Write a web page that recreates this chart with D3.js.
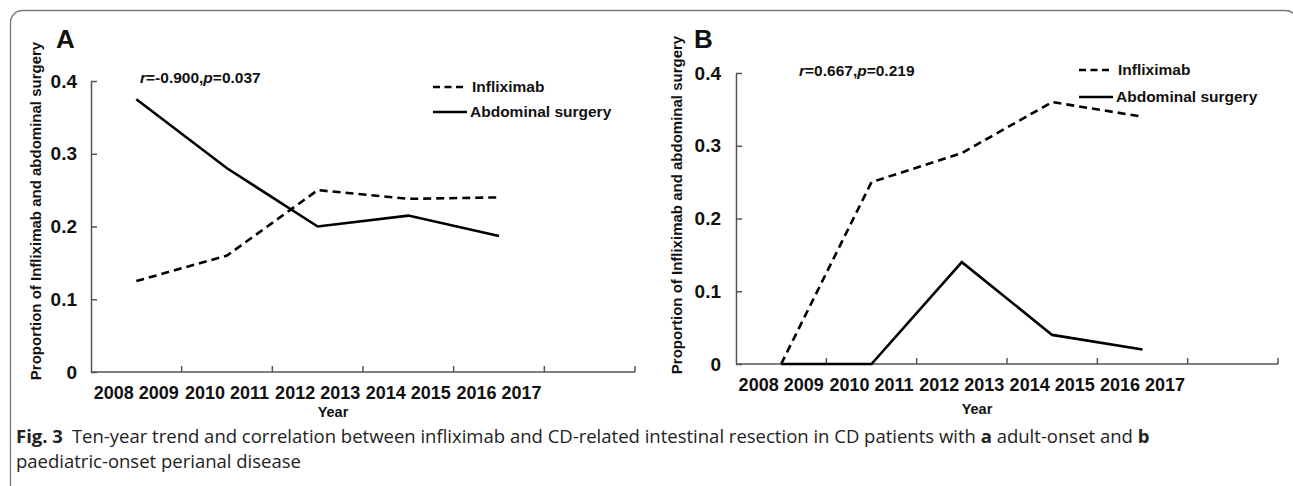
<!DOCTYPE html>
<html>
<head>
<meta charset="utf-8">
<script src="https://cdn.jsdelivr.net/npm/d3@7"></script>
<style>
  body { margin: 0; background: #fff; }
  svg { display: block; }
  .axis text { font-family: "Liberation Sans", Arial, sans-serif; font-weight: bold; fill: #111; }
  .lbl { font-family: "Liberation Sans", Arial, sans-serif; font-weight: bold; fill: #111; }
  .cap { font-family: "Open Sans", "Noto Sans", sans-serif; fill: #222; }
</style>
</head>
<body>
<svg id="chart" width="1293" height="486"></svg>
<script>
// categories (two-year groups) and y ticks
const categories = ["2008 2009", "2010 2011", "2012 2013", "2014 2015", "2016 2017", ""];
const yTicks = [0, 0.1, 0.2, 0.3, 0.4];

// panel A: adult-onset
const inflixA = [0.125, 0.16, 0.25, 0.238, 0.24];
const surgeryA = [0.375, 0.28, 0.20, 0.215, 0.187];
// panel B: paediatric-onset
const inflixB = [0, 0.25, 0.29, 0.36, 0.34];
const surgeryB = [0, 0, 0.14, 0.04, 0.02];

const seriesNames = ["Infliximab", "Abdominal surgery"];
const yTitle = "Proportion of Infliximab and abdominal surgery";

const svg = d3.select("#chart");

// outer frame
svg.append("rect")
  .attr("x", 10.5).attr("y", 10.5)
  .attr("width", 1287).attr("height", 520)
  .attr("rx", 12)
  .attr("fill", "none")
  .attr("stroke", "#777")
  .attr("stroke-width", 1.3);

function drawPanel(p) {
  const x = d3.scaleBand().domain(categories).range([p.x0, p.x1]).padding(0);
  const y = d3.scaleLinear().domain([0, 0.4]).range([p.yb, p.yt]);
  const g = svg.append("g");

  // y axis, ticks pointing inward
  g.append("g")
    .attr("class", "axis")
    .attr("transform", `translate(${p.x0},0)`)
    .call(d3.axisLeft(y).tickValues(yTicks)
      .tickFormat(d => d === 0 ? "0" : d.toFixed(1))
      .tickSizeInner(-6).tickSizeOuter(0).tickPadding(p.ypad))
    .call(a => a.selectAll("text").style("font-size", "19px"))
    .call(a => a.selectAll("line,path").attr("stroke", "#555").attr("stroke-width", 1.5));

  // x axis labels under band centres
  g.append("g")
    .attr("class", "axis")
    .attr("transform", `translate(0,${p.yb})`)
    .call(d3.axisBottom(x).tickSize(0).tickPadding(14))
    .call(a => a.select(".domain").remove())
    .call(a => a.selectAll("text").style("font-size", "18px"));

  // x axis line with boundary ticks pointing up
  g.append("line")
    .attr("x1", p.x0).attr("x2", p.x1)
    .attr("y1", p.yb).attr("y2", p.yb)
    .attr("stroke", "#555").attr("stroke-width", 1.5);
  const bounds = categories.slice(1).map(c => x(c)).concat([p.x1]);
  g.selectAll(".xt").data(bounds).enter().append("line")
    .attr("x1", d => d).attr("x2", d => d)
    .attr("y1", p.yb).attr("y2", p.yb - 6)
    .attr("stroke", "#555").attr("stroke-width", 1.5);

  const line = d3.line()
    .x((d, i) => x(categories[i]) + x.bandwidth() / 2)
    .y(d => y(d));

  g.append("path").datum(p.inflix)
    .attr("d", line).attr("fill", "none")
    .attr("stroke", "#000").attr("stroke-width", 2.6)
    .attr("stroke-dasharray", "8,5");
  g.append("path").datum(p.surgery)
    .attr("d", line).attr("fill", "none")
    .attr("stroke", "#000").attr("stroke-width", 2.6);

  // panel letter
  g.append("text").attr("class", "lbl")
    .attr("x", p.letterX).attr("y", 48)
    .style("font-size", "26px").text(p.letter);

  // y title
  g.append("text").attr("class", "lbl")
    .attr("transform", `translate(${p.ytX},${p.ytY}) rotate(-90)`)
    .attr("text-anchor", "middle").attr("dy", "0.35em")
    .style("font-size", "15px").text(yTitle);

  // x title
  g.append("text").attr("class", "lbl")
    .attr("x", p.yearX).attr("y", p.yearY)
    .attr("text-anchor", "middle")
    .style("font-size", "14.5px").text("Year");

  // correlation text
  const rt = g.append("text").attr("class", "lbl")
    .attr("x", p.rX).attr("y", p.rY).style("font-size", "15.5px");
  rt.append("tspan").style("font-style", "italic").text("r");
  rt.append("tspan").text("=" + p.r + ",");
  rt.append("tspan").style("font-style", "italic").text("p");
  rt.append("tspan").text("=" + p.p);

  // legend
  const lg = g.append("g").attr("transform", `translate(${p.legX},${p.legY})`);
  seriesNames.forEach((name, i) => {
    lg.append("line")
      .attr("x1", 0).attr("x2", i === 0 ? 30 : 34)
      .attr("y1", i * p.legGap).attr("y2", i * p.legGap)
      .attr("stroke", "#000").attr("stroke-width", 2.4)
      .attr("stroke-dasharray", i === 0 ? "7,4.5" : null);
    lg.append("text").attr("class", "lbl")
      .attr("x", i === 0 ? 39 : 37).attr("y", i * p.legGap)
      .attr("dy", "0.35em")
      .style("font-size", "15.5px").text(name);
  });
}

drawPanel({
  x0: 91, x1: 635, yb: 372, yt: 81, ypad: 14,
  inflix: inflixA, surgery: surgeryA,
  letter: "A", letterX: 56, ytX: 36, ytY: 211, yearX: 333, yearY: 417,
  rX: 140, rY: 83, r: "-0.900", p: "0.037",
  legX: 433, legY: 87, legGap: 25
});

drawPanel({
  x0: 736, x1: 1278, yb: 364, yt: 73, ypad: 15,
  inflix: inflixB, surgery: surgeryB,
  letter: "B", letterX: 694, ytX: 677, ytY: 205, yearX: 977, yearY: 414,
  rX: 799, rY: 76, r: "0.667", p: "0.219",
  legX: 1079, legY: 70, legGap: 27
});

// caption
const cap = svg.append("g").attr("class", "cap").style("font-size", "18.5px");
const c1 = cap.append("text").attr("x", 16).attr("y", 443);
c1.append("tspan").style("font-weight", "bold").text("Fig. 3");
c1.append("tspan").attr("dx", 9).text("Ten-year trend and correlation between infliximab and CD-related intestinal resection in CD patients with ");
c1.append("tspan").style("font-weight", "bold").text("a");
c1.append("tspan").text(" adult-onset and ");
c1.append("tspan").style("font-weight", "bold").text("b");
cap.append("text").attr("x", 16).attr("y", 468).text("paediatric-onset perianal disease");
</script>
</body>
</html>
